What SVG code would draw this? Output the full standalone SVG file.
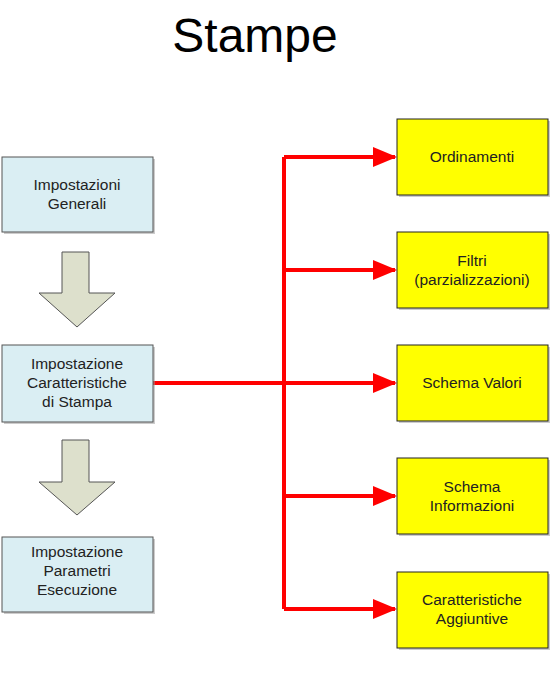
<svg xmlns="http://www.w3.org/2000/svg" width="552" height="688" viewBox="0 0 552 688">
<style>
.lb{fill:#daeef3;stroke:#555;stroke-width:1}
.yb{fill:#ffff00;stroke:#222;stroke-width:1}
.sh{fill:#999;opacity:0.5}
.t{font-family:"Liberation Sans",Arial,sans-serif;font-size:15.5px;fill:#222;text-anchor:middle}
.ar{fill:#dde0cc;stroke:#555;stroke-width:1}
.cn{fill:none;stroke:#ff0000;stroke-width:4}
</style>
<defs>
<marker id="ah" markerWidth="6" markerHeight="5" refX="5.5" refY="2.5" orient="auto" markerUnits="strokeWidth">
<path d="M0,0 L6,2.5 L0,5 Z" fill="#ff0000"/>
</marker>
</defs>
<rect width="552" height="688" fill="#fff"/>
<text x="255" y="52" font-family="Liberation Sans,Arial,sans-serif" font-size="48" text-anchor="middle" fill="#000">Stampe</text>

<g id="connectors">
<path class="cn" d="M153,383 H284"/>
<path class="cn" d="M284,157 V609"/>
<path class="cn" d="M284,157 H395" marker-end="url(#ah)"/>
<path class="cn" d="M284,270 H395" marker-end="url(#ah)"/>
<path class="cn" d="M284,383 H395" marker-end="url(#ah)"/>
<path class="cn" d="M284,496 H395" marker-end="url(#ah)"/>
<path class="cn" d="M284,609 H395" marker-end="url(#ah)"/>
</g>

<g id="n-generali">
<rect class="sh" x="4" y="159" width="151" height="75"/>
<rect class="lb" x="2" y="157" width="151" height="75"/>
<text class="t" x="77" y="190">Impostazioni</text>
<text class="t" x="77" y="209">Generali</text>
</g>
<g id="arrow1">
<path class="ar" d="M62,252 H89 V293 H115 L77,327 L39,293 H62 Z"/>
</g>
<g id="n-caratteristiche">
<rect class="sh" x="4" y="347" width="151" height="77"/>
<rect class="lb" x="2" y="345" width="151" height="77"/>
<text class="t" x="77" y="369">Impostazione</text>
<text class="t" x="77" y="388">Caratteristiche</text>
<text class="t" x="77" y="407">di Stampa</text>
</g>
<g id="arrow2">
<path class="ar" d="M62,440 H89 V482 H115 L77,515 L39,482 H62 Z"/>
</g>
<g id="n-parametri">
<rect class="sh" x="4" y="539" width="151" height="75"/>
<rect class="lb" x="2" y="537" width="151" height="75"/>
<text class="t" x="77" y="557">Impostazione</text>
<text class="t" x="77" y="576">Parametri</text>
<text class="t" x="77" y="595">Esecuzione</text>
</g>

<g id="n-ordinamenti">
<rect class="sh" x="399" y="121" width="151" height="76"/>
<rect class="yb" x="397" y="119" width="151" height="76"/>
<text class="t" x="472" y="162">Ordinamenti</text>
</g>
<g id="n-filtri">
<rect class="sh" x="399" y="234" width="151" height="76"/>
<rect class="yb" x="397" y="232" width="151" height="76"/>
<text class="t" x="472" y="266">Filtri</text>
<text class="t" x="472" y="285">(parzializzazioni)</text>
</g>
<g id="n-valori">
<rect class="sh" x="399" y="347" width="151" height="76"/>
<rect class="yb" x="397" y="345" width="151" height="76"/>
<text class="t" x="472" y="388">Schema Valori</text>
</g>
<g id="n-informazioni">
<rect class="sh" x="399" y="460" width="151" height="76"/>
<rect class="yb" x="397" y="458" width="151" height="76"/>
<text class="t" x="472" y="492">Schema</text>
<text class="t" x="472" y="511">Informazioni</text>
</g>
<g id="n-aggiuntive">
<rect class="sh" x="399" y="574" width="151" height="76"/>
<rect class="yb" x="397" y="572" width="151" height="76"/>
<text class="t" x="472" y="605">Caratteristiche</text>
<text class="t" x="472" y="624">Aggiuntive</text>
</g>
</svg>
